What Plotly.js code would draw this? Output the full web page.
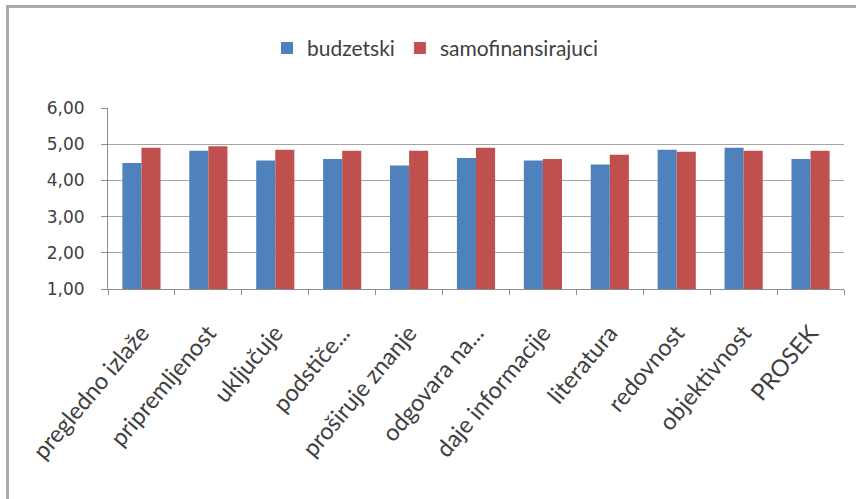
<!DOCTYPE html>
<html><head><meta charset="utf-8">
<script src="https://cdn.plot.ly/plotly-3.0.1.min.js"></script>
<style>
html,body{margin:0;padding:0;background:#fff;overflow:hidden;}
#frame{position:absolute;left:6px;top:5px;width:860px;height:510px;border-top:3px solid #a9a9a9;border-left:3px solid #a9a9a9;}
#chart{position:absolute;left:0;top:0;width:856px;height:499px;}
</style></head>
<body>
<div id="frame"></div>
<div id="chart"></div>
<script>
const categories = ["pregledno izlaže","pripremljenost","uključuje","podstiče...","proširuje znanje","odgovara na...","daje informacije","literatura","redovnost","objektivnost","PROSEK"];
const budzetski = [4.48,4.82,4.55,4.59,4.41,4.62,4.55,4.44,4.85,4.90,4.59];
const samofinansirajuci = [4.90,4.94,4.85,4.82,4.82,4.90,4.59,4.71,4.79,4.82,4.82];
const seriesNames = ["budzetski","samofinansirajuci"];
const yTicks = [1,2,3,4,5,6];

const fam = "Lato, 'Open Sans', sans-serif";
const data = [
  {type:"bar", name:seriesNames[0], x:categories, y:budzetski, marker:{color:"#4F81BD"}},
  {type:"bar", name:seriesNames[1], x:categories, y:samofinansirajuci, marker:{color:"#C0504D"}}
];
const layout = {
  width:856, height:499,
  margin:{l:108, r:12, t:108, b:210},
  paper_bgcolor:"rgba(0,0,0,0)", plot_bgcolor:"#fff",
  separators:",.",
  barmode:"group", bargap:0.43, bargroupgap:0,
  font:{family:fam, size:16, color:"#404040"},
  showlegend:true,
  legend:{orientation:"h", x:0.445, xanchor:"center", y:1.33, yanchor:"middle", font:{family:fam,size:21,color:"#404040"}, itemwidth:30, traceorder:"normal"},
  xaxis:{type:"category", tickangle:-50, ticks:"outside", tickson:"boundaries", ticklen:5, tickcolor:"#8c8c8c",
         ticklabelstandoff:20,
         showline:true, linecolor:"#8c8c8c", linewidth:1, showgrid:false, tickfont:{family:fam,size:23.5,color:"#404040"}},
  yaxis:{range:[1,6], tickvals:yTicks, tickformat:".2f", ticks:"outside", ticklen:6, tickcolor:"#8c8c8c",
         ticklabelstandoff:13,
         showline:true, linecolor:"#8c8c8c", linewidth:1, showgrid:true, gridcolor:"#a6a6a6", gridwidth:1,
         zeroline:false, tickfont:{family:"'DejaVu Sans', sans-serif",size:17,color:"#404040"}}
};
Plotly.newPlot("chart", data, layout, {displayModeBar:false, staticPlot:true});
</script>
</body></html>
